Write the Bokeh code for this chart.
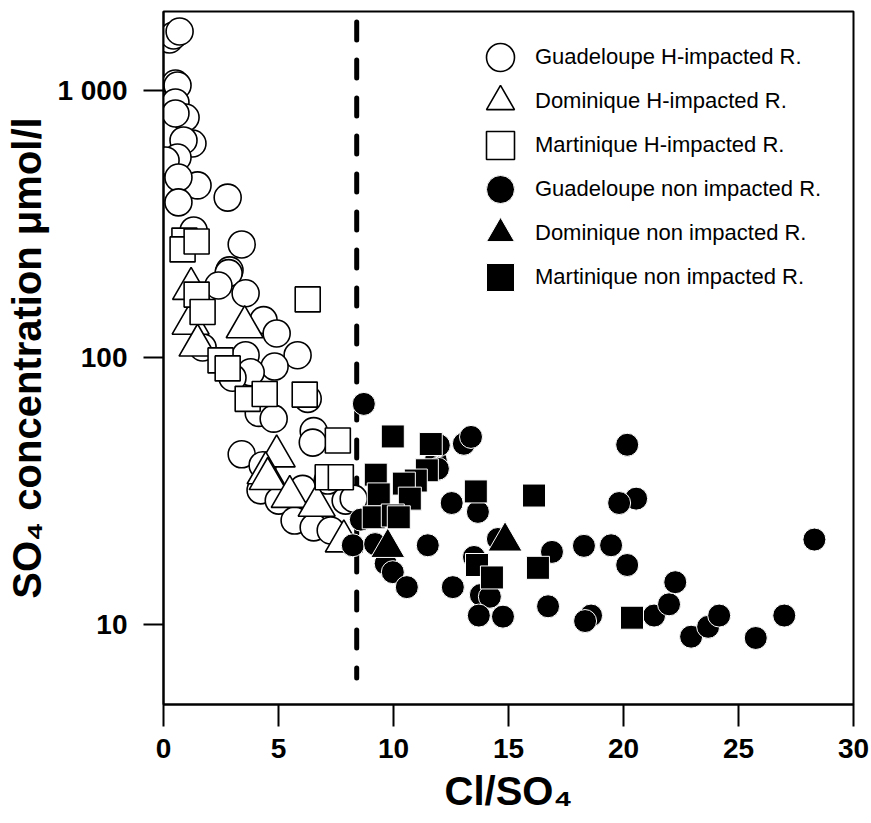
from bokeh.plotting import figure
from bokeh.models import Range1d, FixedTicker, BasicTickFormatter, Legend, LegendItem
from bokeh.embed import file_html
from bokeh.resources import INLINE

# ---------------- data (Cl/SO4 ratio, SO4 concentration in µmol/l) ----------------
guad_h_x = [0.26, 0.44, 0.70, 0.52, 0.61, 0.52, 0.96, 0.52, 1.26, 0.87, 0.30, 0.61, 0.09,
            1.48, 0.65, 0.65, 2.79, 1.31, 3.40, 2.87, 2.83, 2.39, 3.57, 4.35, 4.92, 1.70,
            3.57, 5.83, 4.83, 3.79, 3.00, 6.27, 4.14, 4.79, 6.53, 6.49, 3.40, 4.31, 4.22,
            5.01, 5.70, 6.53, 7.27, 6.05, 7.14, 7.92, 8.27]
guad_h_y = [1553, 1607, 1663, 1062, 1044, 902, 792, 820, 633, 650, 533, 561, 547,
            441, 472, 381, 397, 299, 265, 212, 207, 186, 174, 138, 123, 109,
            102, 102, 92.5, 88, 84, 70, 62, 59, 53, 48, 43.4, 39.5, 31.8,
            29.1, 24.5, 23.1, 22.5, 32.2, 34.6, 29.1, 29.6]

dom_h_x = [1.20, 1.18, 3.53, 1.48, 4.92, 4.44, 4.53, 5.49, 6.66, 7.84]
dom_h_y = [181, 134, 130, 111, 42.7, 36.9, 35.1, 30.1, 27.9, 20.5]

mart_h_x = [0.91, 0.83, 1.44, 1.44, 1.70, 6.27, 2.48, 2.79, 3.66, 4.40, 6.14, 7.58, 7.14, 7.71]
mart_h_y = [274, 254, 272, 172, 148, 165, 97.5, 91, 70, 73, 72.6, 48.9, 35.6, 35.6]

guad_n_x = [8.71, 8.58, 8.23, 9.20, 9.66, 9.97, 10.58, 11.49, 12.53, 12.58, 11.84, 11.97,
            13.06, 13.37, 11.93, 20.16, 20.55, 19.81, 13.67, 14.54, 28.30, 18.28, 19.46,
            20.16, 16.89, 13.50, 13.80, 14.19, 13.71, 14.76, 16.72, 18.59, 18.33, 21.33,
            21.98, 22.25, 22.94, 23.68, 24.16, 25.75, 26.99]
guad_n_y = [67, 24.7, 19.8, 20.0, 16.9, 15.7, 13.8, 19.8, 28.5, 13.8, 41.1, 46.9,
            47.5, 50.4, 38.3, 47.1, 29.6, 28.5, 26.4, 20.9, 20.8, 19.7, 19.8,
            16.7, 18.7, 17.9, 12.9, 12.7, 10.8, 10.7, 11.7, 10.8, 10.3, 10.8,
            11.9, 14.4, 9.0, 9.8, 10.8, 8.9, 10.8]

dom_n_x = [9.75, 14.85]
dom_n_y = [19.4, 20.5]

mart_n_x = [9.97, 11.62, 11.45, 9.23, 10.97, 10.45, 9.36, 10.71, 9.14, 9.97, 10.23,
            13.58, 16.11, 13.63, 14.28, 16.28, 20.37]
mart_n_y = [50.6, 47.4, 37.8, 36.4, 34.6, 33.7, 30.7, 29.6, 25.2, 25.6, 25.2,
            31.5, 30.4, 16.7, 15.0, 16.3, 10.6]

legend_labels = ["Guadeloupe H-impacted R.", "Dominique H-impacted R.", "Martinique H-impacted R.",
                 "Guadeloupe non impacted R.", "Dominique non impacted R.", "Martinique non impacted R."]

x_ticks = [0, 5, 10, 15, 20, 25, 30]
y_ticks = [10, 100, 1000]
y_tick_labels = {10: "10", 100: "100", 1000: "1 000"}

x_title = "Cl/SO\u2084"
y_title = "SO\u2084 concentration \u03bcmol/l"

cutoff = 8.4            # Cl/SO4 threshold (dashed line)
cutoff_top, cutoff_bottom = 1806, 6.3

X_START, X_END = 0, 30
Y_START, Y_END = 5.015, 1976

FONT = "Liberation Sans"

# ---------------- figure ----------------
W, H = 871, 823
p = figure(width=W, height=H, x_range=Range1d(X_START, X_END), y_range=Range1d(Y_START, Y_END),
           y_axis_type="log", output_backend="svg", toolbar_location=None,
           min_border_left=163, min_border_right=18, min_border_top=11, min_border_bottom=119)
p.grid.visible = False
p.outline_line_color = "black"
p.outline_line_width = 2
p.background_fill_color = "white"
p.border_fill_color = "white"

for ax in (p.xaxis[0], p.yaxis[0]):
    ax.axis_line_width = 2
    ax.major_tick_line_width = 2
    ax.major_tick_in = 0
    ax.minor_tick_line_color = None
    ax.major_label_text_font = FONT
    ax.major_label_text_font_style = "bold"
    ax.major_label_text_font_size = "28px"
    ax.major_label_text_color = "black"
    ax.axis_label_text_font = FONT
    ax.axis_label_text_font_style = "bold"
    ax.axis_label_text_font_size = "40px"
    ax.axis_label_text_color = "black"

p.xaxis.ticker = FixedTicker(ticks=x_ticks, minor_ticks=[])
p.xaxis.major_tick_out = 22
p.xaxis.major_label_standoff = 12
p.xaxis.axis_label = x_title
p.xaxis.axis_label_standoff = 8

p.yaxis.ticker = FixedTicker(ticks=y_ticks, minor_ticks=[])
p.yaxis.formatter = BasicTickFormatter()
p.yaxis.major_label_overrides = y_tick_labels
p.yaxis.major_tick_out = 20
p.yaxis.major_label_standoff = 16
p.yaxis.axis_label = y_title
p.yaxis.axis_label_standoff = 5

# dashed threshold line
p.segment(x0=[cutoff], y0=[cutoff_top], x1=[cutoff], y1=[cutoff_bottom],
          line_color="black", line_width=5, line_dash="18 20", line_cap="round")

open_style = dict(fill_color="white", line_color="black", line_width=1.6)
fill_style = dict(fill_color="black", line_color="white", line_width=1)

r1 = p.scatter(guad_h_x, guad_h_y, marker="circle", size=27, **open_style)
r2 = p.scatter(dom_h_x, dom_h_y, marker="triangle", size=37, **open_style)
r3 = p.scatter(mart_h_x, mart_h_y, marker="square", size=25, **open_style)
r4 = p.scatter(guad_n_x, guad_n_y, marker="circle", size=23, **fill_style)
r5 = p.scatter(dom_n_x, dom_n_y, marker="triangle", size=34, **fill_style)
r6 = p.scatter(mart_n_x, mart_n_y, marker="square", size=23, **fill_style)

# legend: one single-entry legend per row, so rows can sit closer than the glyph box
LEG_X = 302            # px from frame left to glyph box
LEG_TOP_ROW = 46       # px from frame top to first row centre
LEG_STEP = 44          # px between rows
GLYPH = 70
frame_h = H - 11 - 119
for k, (lab, r) in enumerate(zip(legend_labels, [r1, r2, r3, r4, r5, r6])):
    centre_from_bottom = frame_h - (LEG_TOP_ROW + k * LEG_STEP)
    leg = Legend(items=[LegendItem(label=lab, renderers=[r])],
                 location=(LEG_X, centre_from_bottom - GLYPH // 2),
                 glyph_width=GLYPH, glyph_height=GLYPH, spacing=0,
                 label_standoff=0, padding=0, margin=0,
                 border_line_alpha=0, background_fill_alpha=0,
                 label_text_font=FONT, label_text_font_size="22px", label_text_color="black")
    p.add_layout(leg)

open("out.html", "w").write(file_html(p, INLINE))
